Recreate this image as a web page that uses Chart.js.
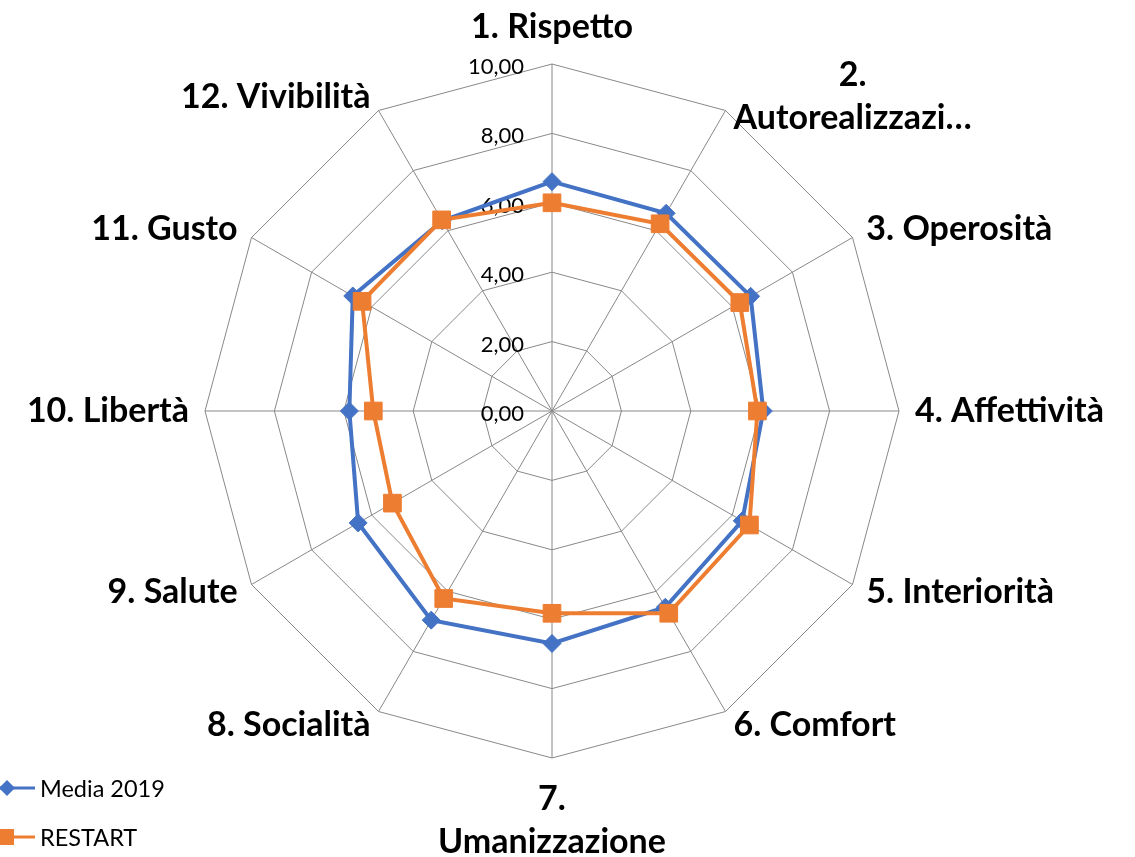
<!DOCTYPE html>
<html lang="it">
<head>
<meta charset="utf-8">
<title>Radar</title>
<script src="https://cdn.jsdelivr.net/npm/chart.js@4.4.0/dist/chart.umd.min.js"></script>
<style>
  html, body { margin: 0; padding: 0; background: #fff; }
  #contenitore { width: 1135px; height: 857px; position: relative; }
</style>
</head>
<body>
<div id="contenitore"><canvas id="grafico"></canvas></div>
<script>
const categorie = [
  "1. Rispetto", ["2.", "Autorealizzazi…"], "3. Operosità", "4. Affettività",
  "5. Interiorità", "6. Comfort", ["7.", "Umanizzazione"], "8. Socialità",
  "9. Salute", "10. Libertà", "11. Gusto", "12. Vivibilità"
]
const media2019 = [6.61, 6.58, 6.61, 6.09, 6.33, 6.53, 6.70, 6.96, 6.45, 5.84, 6.63, 6.33]
const restart = [6.00, 6.23, 6.25, 5.92, 6.57, 6.73, 5.83, 6.24, 5.31, 5.15, 6.32, 6.36]
const valoriTick = [0, 2, 4, 6, 8, 10]

const blu = '#4472C4'
const arancio = '#ED7D31'
const grigio = '#888888'

// etichette dei punti disegnate a mano, messe come le mette Excel
const etichettePunti = {
  id: 'etichettePunti',
  afterDraw(chart) {
    const scala = chart.scales.r
    const ctx = chart.ctx
    const alt = 43
    ctx.save()
    ctx.fillStyle = '#000'
    ctx.font = 'bold 34px Lato'
    ctx.textBaseline = 'middle'
    chart.data.labels.forEach((etichetta, i) => {
      const righe = Array.isArray(etichetta) ? etichetta : [etichetta]
      const pos = scala.getPointPosition(i, scala.drawingArea + 16)
      const angolo = scala.getIndexAngle(i)
      const s = Math.sin(angolo)
      const c = Math.cos(angolo)
      const larghezza = Math.max(...righe.map(r => ctx.measureText(r).width))
      const altezza = righe.length * alt
      let sinistra
      if (s > 0.01) sinistra = pos.x
      else if (s < -0.01) sinistra = pos.x - larghezza
      else sinistra = pos.x - larghezza / 2
      let sopra
      if (Math.abs(s) <= 0.01) {
        sopra = c > 0 ? pos.y - altezza + 1 : pos.y + 4
      } else {
        sopra = pos.y - altezza / 2
      }
      ctx.textAlign = 'center'
      righe.forEach((riga, k) => {
        ctx.fillText(riga, sinistra + larghezza / 2, sopra + alt * (k + 0.5))
      })
    })
    ctx.restore()
  }
}

// valori dell'asse a sinistra della linea verticale, come in Excel
const etichetteTick = {
  id: 'etichetteTick',
  beforeDatasetsDraw(chart) {
    const scala = chart.scales.r
    const ctx = chart.ctx
    ctx.save()
    ctx.fillStyle = '#000'
    ctx.font = '22px Lato'
    ctx.textAlign = 'right'
    ctx.textBaseline = 'middle'
    valoriTick.forEach(v => {
      const d = scala.getDistanceFromCenterForValue(v)
      ctx.fillText(v.toFixed(2).replace('.', ','), scala.xCenter - 28, scala.yCenter - d + 3)
    })
    ctx.restore()
  }
}

// legenda in basso a sinistra, con linea e marcatore
const legendaExcel = {
  id: 'legendaExcel',
  afterDraw(chart) {
    const ctx = chart.ctx
    const righe = [788, 837]
    ctx.save()
    chart.data.datasets.forEach((ds, i) => {
      const y = righe[i]
      ctx.strokeStyle = ds.borderColor
      ctx.lineWidth = 3
      ctx.beginPath()
      ctx.moveTo(0, y)
      ctx.lineTo(35, y)
      ctx.stroke()
      ctx.fillStyle = ds.borderColor
      ctx.beginPath()
      if (ds.pointStyle === 'rectRot') {
        ctx.moveTo(7 - 8, y)
        ctx.lineTo(7, y - 8)
        ctx.lineTo(7 + 8, y)
        ctx.lineTo(7, y + 8)
        ctx.closePath()
      } else {
        ctx.rect(-2, y - 8, 16, 16)
      }
      ctx.fill()
      ctx.fillStyle = '#000'
      ctx.font = '23.5px Lato'
      ctx.textAlign = 'left'
      ctx.textBaseline = 'middle'
      ctx.fillText(ds.label, 40, y + 1)
    })
    ctx.restore()
  }
}

const grafico = new Chart(document.getElementById('grafico'), {
  type: 'radar',
  data: {
    labels: categorie,
    datasets: [{
      label: 'Media 2019',
      data: media2019,
      borderColor: blu,
      backgroundColor: blu,
      borderWidth: 4,
      pointStyle: 'rectRot',
      pointRadius: 9,
      pointBorderWidth: 1,
      pointBackgroundColor: blu,
      pointBorderColor: blu,
      fill: false,
      order: 1
    }, {
      label: 'RESTART',
      data: restart,
      borderColor: arancio,
      backgroundColor: arancio,
      borderWidth: 4,
      pointStyle: 'rect',
      pointRadius: 12.5,
      pointBorderWidth: 1,
      pointBackgroundColor: arancio,
      pointBorderColor: arancio,
      fill: false,
      order: 0
    }]
  },
  options: {
    responsive: true,
    maintainAspectRatio: false,
    animation: false,
    events: [],
    layout: { padding: { top: 64, bottom: 99, left: 100, right: 131 } },
    plugins: {
      legend: { display: false },
      tooltip: { enabled: false }
    },
    elements: { line: { tension: 0 } },
    scales: {
      r: {
        min: 0,
        max: 10,
        ticks: { stepSize: 2, display: false },
        grid: { color: grigio, lineWidth: 1 },
        angleLines: { color: grigio, lineWidth: 1 },
        pointLabels: { display: false }
      }
    }
  },
  plugins: [etichetteTick, etichettePunti, legendaExcel]
})
</script>
</body>
</html>
